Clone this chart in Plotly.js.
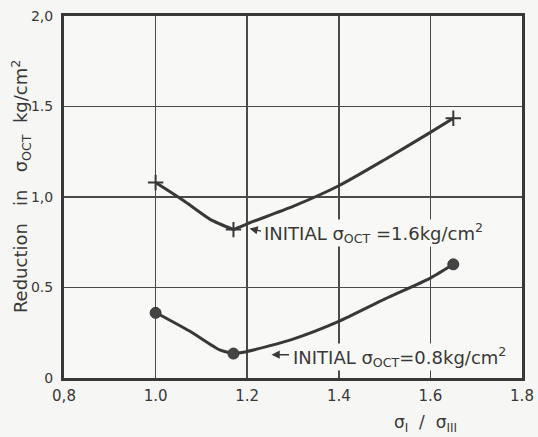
<!DOCTYPE html>
<html>
<head>
<meta charset="utf-8">
<script src="https://cdn.plot.ly/plotly-3.0.1.min.js"></script>
<style>html,body{margin:0;padding:0;background:#f6f6f4;}#chart{width:538px;height:437px;}</style>
</head>
<body>
<div id="chart"></div>
<script>
// Measured points (σI/σIII ratio vs reduction in σOCT, kg/cm²)
const ratio = [1.0, 1.17, 1.65];
const reduction16 = [1.08, 0.82, 1.435];
const reduction08 = [0.36, 0.135, 0.628];

// Hand-drawn fitted curves
const curve16LeftX = [1.0, 1.06, 1.12, 1.17];
const curve16LeftY = [1.08, 0.982, 0.875, 0.82];
const curve16RightX = [1.17, 1.2, 1.3, 1.4, 1.5, 1.6, 1.65];
const curve16RightY = [0.82, 0.852, 0.948, 1.062, 1.206, 1.357, 1.435];
const curve08LeftX = [1.0, 1.075, 1.14, 1.17];
const curve08LeftY = [0.362, 0.258, 0.155, 0.134];
const curve08RightX = [1.17, 1.2, 1.3, 1.4, 1.5, 1.6, 1.65];
const curve08RightY = [0.134, 0.146, 0.215, 0.313, 0.436, 0.552, 0.628];

// Tick labels
const xTickVals = [0.8, 1.0, 1.2, 1.4, 1.6, 1.8];
const xTickText = ["0,8", "1.0", "1.2", "1.4", "1.6", "1.8"];
const yTickVals = [0, 0.5, 1.0, 1.5, 2.0];
const yTickText = ["0", "0.5", "1,0", "1.5", "2,0"];

// Labels
const label16 = "INITIAL σ<sub>OCT</sub> =1.6kg/cm<sup>2</sup>";
const label08 = "INITIAL σ<sub>OCT</sub>=0.8kg/cm<sup>2</sup>";
const yTitle = "Reduction\u00A0\u00A0\u00A0in\u00A0\u00A0\u00A0σ<sub>OCT</sub>\u00A0\u00A0kg/cm<sup>2</sup>";
const xTitle = "σ<sub>I</sub>\u00A0\u00A0/\u00A0\u00A0σ<sub>III</sub>";

const ink = '#383838';
const curveLine = {color: ink, width: 3, shape: 'spline', smoothing: 0.6};

const traces = [
  {x: curve16LeftX, y: curve16LeftY, mode: 'lines', line: curveLine, hoverinfo: 'skip'},
  {x: curve16RightX, y: curve16RightY, mode: 'lines', line: curveLine, hoverinfo: 'skip'},
  {x: curve08LeftX, y: curve08LeftY, mode: 'lines', line: curveLine, hoverinfo: 'skip'},
  {x: curve08RightX, y: curve08RightY, mode: 'lines', line: curveLine, hoverinfo: 'skip'},
  {x: ratio, y: reduction16, mode: 'markers',
   marker: {symbol: 'cross-thin-open', size: 11, color: ink, line: {color: ink, width: 2}}},
  {x: ratio, y: reduction08, mode: 'markers',
   marker: {symbol: 'circle', size: 11, color: '#444', line: {color: ink, width: 1}}}
];

const fontFam = 'DejaVu Sans, sans-serif';

const layout = {
  width: 538, height: 437,
  margin: {l: 64, r: 16, t: 16, b: 59},
  paper_bgcolor: '#f6f6f4',
  plot_bgcolor: '#f8f8f6',
  showlegend: false,
  font: {family: fontFam, color: ink},
  xaxis: {
    range: [0.8, 1.8], tickvals: xTickVals, ticktext: xTickText,
    showgrid: true, gridcolor: '#4a4a4a', gridwidth: 1.5,
    showline: true, linecolor: ink, linewidth: 3, mirror: true,
    ticks: '', zeroline: false, tickfont: {size: 15, color: ink, family: fontFam},
    ticklabelstandoff: 2
  },
  yaxis: {
    range: [0, 2], tickvals: yTickVals, ticktext: yTickText,
    showgrid: true, gridcolor: '#4a4a4a', gridwidth: 1.5,
    showline: true, linecolor: ink, linewidth: 3, mirror: true,
    ticks: '', zeroline: false, tickfont: {size: 14, color: ink, family: fontFam},
    ticklabelstandoff: 5
  },
  annotations: [
    {x: 1.205, y: 0.826, xref: 'x', yref: 'y', text: '', showarrow: true,
     ax: 13, ay: 3, arrowhead: 2, arrowsize: 1.1, arrowwidth: 1.5, arrowcolor: ink},
    {x: 1.234, y: 0.80, xref: 'x', yref: 'y', text: label16, showarrow: false,
     xanchor: 'left', yanchor: 'middle', bgcolor: 'rgba(248,248,246,1)', borderpad: 0,
     font: {size: 18, color: ink, family: fontFam}},
    {x: 1.253, y: 0.129, xref: 'x', yref: 'y', text: '', showarrow: true,
     ax: 19, ay: 0, arrowhead: 2, arrowsize: 1.1, arrowwidth: 1.5, arrowcolor: ink},
    {x: 1.298, y: 0.115, xref: 'x', yref: 'y', text: label08, showarrow: false,
     xanchor: 'left', yanchor: 'middle', bgcolor: 'rgba(248,248,246,1)', borderpad: 0,
     font: {size: 18, color: ink, family: fontFam}},
    {x: -0.094, y: 0.53, xref: 'paper', yref: 'paper', text: yTitle, showarrow: false,
     textangle: -90, xanchor: 'center', yanchor: 'middle',
     font: {size: 18, color: ink, family: fontFam}},
    {x: 0.79, y: -0.125, xref: 'paper', yref: 'paper', text: xTitle, showarrow: false,
     xanchor: 'center', yanchor: 'middle',
     font: {size: 17, color: ink, family: fontFam}}
  ]
};

Plotly.newPlot('chart', traces, layout, {displayModeBar: false, staticPlot: true});
</script>
</body>
</html>
